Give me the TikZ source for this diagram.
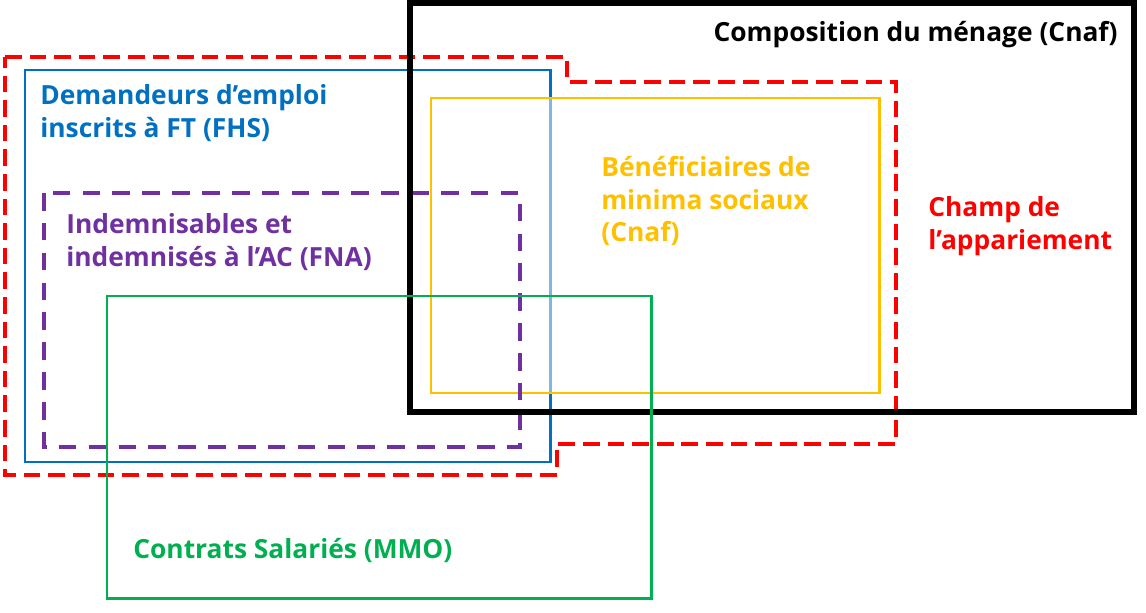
\documentclass[tikz,border=0pt]{standalone}
\usepackage{fontspec}
\setmainfont{Open Sans}
\usetikzlibrary{positioning}

\definecolor{feblue}{HTML}{0070C0}
\definecolor{fnapurple}{HTML}{7030A0}
\definecolor{cnafyellow}{HTML}{FFC000}
\definecolor{mmogreen}{HTML}{00B050}
\definecolor{champred}{HTML}{FF0000}

\begin{document}
\begin{tikzpicture}[
      x=0.02cm, y=-0.02cm,
      frame/.style={line join=miter},
      lbl/.style={font=\bfseries\fontsize{15}{18.7}\selectfont,
                  inner sep=0pt, align=left, anchor=west},
      redline/.style={frame, draw=champred, line width=2.8pt,
                      dash pattern=on 9.5pt off 4.5pt},
      purpleline/.style={frame, draw=fnapurple, line width=2.3pt,
                         dash pattern=on 10pt off 7pt}
    ]
    \useasboundingbox (0,0) rectangle (1146,612);

    % Champ de l'appariement
    \draw[redline] (5,57) -- (567,57) -- (567,82) -- (896,82) -- (896,444)
          -- (557,444) -- (557,475) -- (5,475) -- cycle;

    % Demandeurs d'emploi
    \draw[frame, draw=feblue, line width=1.7pt] (25,70) rectangle (550,462);

    % Minima sociaux (light fill over the blue edge)
    \draw[frame, draw=cnafyellow, line width=1.7pt,
          fill=white, fill opacity=0.5] (431,98) rectangle (879,393);

    % Indemnisables
    \draw[purpleline] (44,193) rectangle (520,447);

    % Composition du menage
    \draw[frame, draw=black, line width=2.9pt] (410,3) rectangle (1134,412);

    % Contrats salaries
    \draw[frame, draw=mmogreen, line width=1.7pt] (107,296) rectangle (651,598);

    % Labels
    \node[lbl, anchor=east] (menage) at (1118,35) {Composition du ménage (Cnaf)};
    \node[lbl, text=feblue] (fhs) at (40,113) {Demandeurs d’emploi\\inscrits à FT (FHS)};
    \node[lbl, text=fnapurple] (fna) at (66,242) {Indemnisables et\\indemnisés à l’AC (FNA)};
    \node[lbl, text=cnafyellow] (minima) at (601,201) {Bénéficiaires de\\minima sociaux\\(Cnaf)};
    \node[lbl, text=champred] (champ) at (928,226) {Champ de\\l’appariement};
    \node[lbl, text=mmogreen] (mmo) at (133,550) {Contrats Salariés (MMO)};

\end{tikzpicture}
\end{document}
